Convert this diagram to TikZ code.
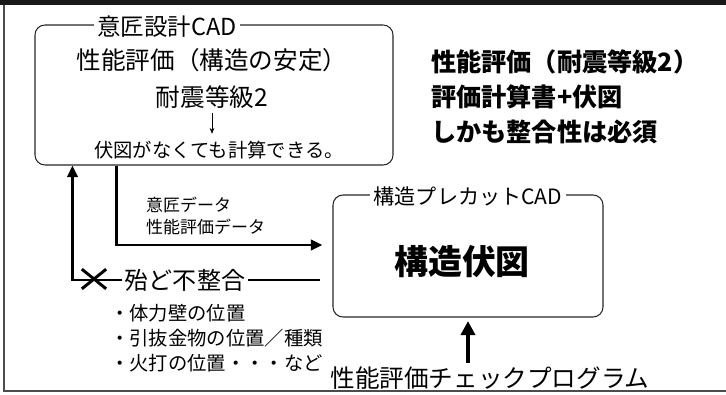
\documentclass[tikz,border=0pt]{standalone}
\usepackage{fontspec}
\setmainfont{Noto Sans CJK JP}
\usetikzlibrary{positioning, arrows.meta, calc, shapes.misc}

\begin{document}
\begin{tikzpicture}[
        x=0.03cm, y=-0.03cm,
        cadbox/.style={draw=black!85, line width=0.9pt, rectangle, rounded corners=0.3cm},
        cadtitle/.style={fill=white, inner xsep=3pt, inner ysep=1pt, font=\fontsize{18}{20}\selectfont},
        boxtext/.style={inner sep=0pt, font=\fontsize{21}{24}\selectfont},
        smalltext/.style={inner sep=0pt, font=\fontsize{16.5}{19}\selectfont},
        datalabel/.style={inner sep=0pt, anchor=west, font=\fontsize{14.5}{17}\selectfont},
        flow/.style={line width=2.2pt, -{Triangle[length=10pt,width=9pt]}},
        plainline/.style={line width=2.2pt},
        thinflow/.style={line width=0.6pt, -{Stealth[length=5pt,width=4pt]}},
        bigflow/.style={line width=3.5pt, -{Triangle[length=12pt,width=12pt]}}
    ]

    % Rahmen
    \useasboundingbox (0,0) rectangle (726,395);
    \fill[black!90] (0,0) rectangle (726,5);
    \draw[line width=1pt, black!70] (4,5) -- (4,391) -- (726,391);

    % Knoten
    \node[cadbox, minimum width=10.74cm, minimum height=4.2cm] (design) at (214,95) {};
    \node[cadtitle, font=\fontsize{20}{22}\selectfont] (designtitle) at (167,27) {意匠設計CAD};
    \node[boxtext] (perf) at (212,60) {性能評価（構造の安定）};
    \node[boxtext] (rank) at (212,97) {耐震等級2};
    \node[smalltext] (nocalc) at (219,150) {伏図がなくても計算できる。};

    \node[inner sep=0pt, anchor=north west, align=left, font=\bfseries\fontsize{21.5}{30}\selectfont] (note) at (431,49)
        {性能評価（耐震等級2）\\評価計算書+伏図\\しかも整合性は必須};

    \node[cadbox, minimum width=8.1cm, minimum height=3.66cm] (precut) at (468,256) {};
    \node[cadtitle] (precuttitle) at (468,196) {構造プレカットCAD};
    \node[inner sep=0pt, font=\bfseries\fontsize{29}{32}\selectfont] (plan) at (462,262) {構造伏図};

    \node[datalabel] (dlabel1) at (146,205) {意匠データ};
    \node[datalabel] (dlabel2) at (146,227) {性能評価データ};

    \node[inner sep=0pt, font=\fontsize{20.5}{23}\selectfont] (mismatch) at (185,280) {殆ど不整合};
    \node[draw, cross out, line width=2.5pt, minimum width=0.64cm, minimum height=0.5cm, inner sep=0pt] (xmark) at (94,279) {};
    \node[smalltext, anchor=west] (wall) at (110,313) {・体力壁の位置};
    \node[smalltext, anchor=west] (hardware) at (110,338) {・引抜金物の位置／種類};
    \node[smalltext, anchor=west] (brace) at (110,363) {・火打の位置・・・など};

    \node[inner sep=0pt, font=\fontsize{21}{24}\selectfont] (checker) at (490,378) {性能評価チェックプログラム};

    % Kanten
    \draw[thinflow, shorten <=4pt, shorten >=6pt] (rank.south) -- (rank.south |- nocalc.north);

    \draw[flow] ($(design.south west)+(82,0)$) |- ($(precut.west)+(-10,-11)$);

    \draw[plainline] ($(precut.west |- mismatch.east)+(-12,0)$) -- ([xshift=2pt]mismatch.east);
    \draw[flow] ([xshift=-2pt]mismatch.west) -| ($(design.south west)+(38,0)$);

    \draw[bigflow, shorten <=3pt, shorten >=3pt] (checker.north -| precut.south) -- (precut.south);

\end{tikzpicture}
\end{document}
